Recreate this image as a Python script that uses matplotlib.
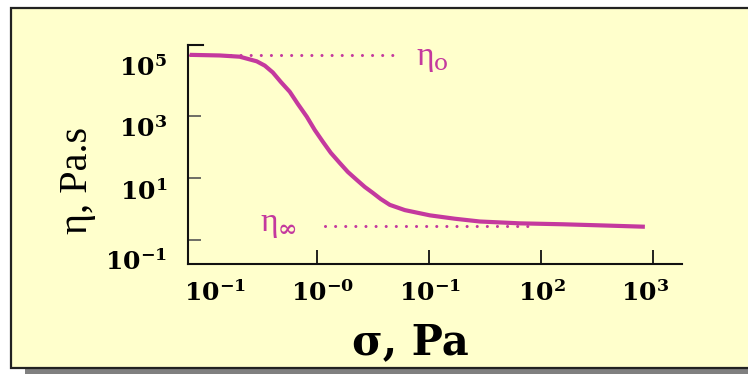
import matplotlib
matplotlib.use("Agg")
import matplotlib.pyplot as plt
from matplotlib.patches import Rectangle
import numpy as np

plt.rcParams['font.family'] = ['Liberation Serif', 'DejaVu Serif']
plt.rcParams['mathtext.fontset'] = 'dejavuserif'
plt.rcParams['mathtext.default'] = 'bf'

# flow curve (log10 stress, log10 viscosity)
log_stress = [-1.134, -0.866, -0.688, -0.536, -0.464, -0.393, -0.321, -0.241, -0.170, -0.089,
              -0.018, 0.054, 0.125, 0.205, 0.277, 0.357, 0.429, 0.500, 0.571, 0.652,
              0.786, 1.009, 1.232, 1.455, 1.813, 2.196, 2.571, 2.929]
log_visc = [5.00, 4.98, 4.94, 4.79, 4.65, 4.43, 4.12, 3.80, 3.41, 2.99,
            2.56, 2.18, 1.82, 1.49, 1.20, 0.94, 0.71, 0.52, 0.32, 0.13,
            -0.04, -0.21, -0.32, -0.41, -0.47, -0.50, -0.54, -0.58]

eta0_level = 5.0
etainf_level = -0.57
eta0_span = [-1.13, 0.70]
etainf_span = [0.07, 1.90]

xtick_pos = [-0.91, 0.05, 1.01, 2.01, 2.93]
xtick_labels = ['$10^{-1}$', '$10^{-0}$', '$10^{-1}$', '$10^{2}$', '$10^{3}$']
xmark_pos = [0, 1, 2, 3]
ytick_pos = [4.64, 2.66, 0.62, -1.66]
ytick_labels = ['$10^{5}$', '$10^{3}$', '$10^{1}$', '$10^{-1}$']
ymark_pos = [3, 1, -1]

magenta = '#c4399e'
yellow = '#ffffcc'

fig = plt.figure(figsize=(7.48, 3.74), dpi=100)
fig.patch.set_facecolor('white')

# shadow + framed yellow panel
fig.patches.append(Rectangle((0.033, 0.0), 1.0, 0.9, transform=fig.transFigure,
                             facecolor='#808080', edgecolor='none', zorder=-2))
fig.patches.append(Rectangle((0.0147, 0.016), 1.0, 0.9626, transform=fig.transFigure,
                             facecolor=yellow, edgecolor='#222222', lw=1.6, zorder=-1))

ax = fig.add_axes([0.2513, 0.2941, 0.6604, 0.5856])
ax.set_zorder(2)
ax.set_facecolor('none')
ax.set_xscale('log')
ax.set_yscale('log')
ax.set_xlim(10 ** -1.15, 10 ** 3.26)
ax.set_ylim(10 ** -1.79, 10 ** 5.32)

x = 10 ** np.array(log_stress)
y = 10 ** np.array(log_visc)
ax.plot(x, y, color=magenta, lw=3.0, solid_capstyle='butt', solid_joinstyle='round', zorder=3)

dots = (0, (0.01, 3.3))
ax.plot(10 ** np.array(eta0_span), [10 ** eta0_level] * 2, color=magenta, lw=2.2,
        linestyle=dots, dash_capstyle='round', zorder=2)
ax.plot(10 ** np.array(etainf_span), [10 ** etainf_level] * 2, color=magenta, lw=2.2,
        linestyle=dots, dash_capstyle='round', zorder=2)

ax.text(10 ** 0.89, 10 ** 4.88, 'η$_{\\mathrm{o}}$', color=magenta, fontsize=24,
        ha='left', va='center')
ax.text(10 ** -0.51, 10 ** -0.5, 'η$_{\\infty}$', color=magenta, fontsize=24,
        ha='left', va='center')

for s in ['top', 'right']:
    ax.spines[s].set_visible(False)
for s in ['left', 'bottom']:
    ax.spines[s].set_linewidth(1.5)
    ax.spines[s].set_color('#111111')

ax.xaxis.set_major_locator(matplotlib.ticker.FixedLocator(10 ** np.array(xtick_pos)))
ax.xaxis.set_major_formatter(matplotlib.ticker.FixedFormatter(xtick_labels))
ax.xaxis.set_minor_locator(matplotlib.ticker.FixedLocator(10.0 ** np.array(xmark_pos)))
ax.xaxis.set_minor_formatter(matplotlib.ticker.NullFormatter())
ax.yaxis.set_major_locator(matplotlib.ticker.FixedLocator(10 ** np.array(ytick_pos)))
ax.yaxis.set_major_formatter(matplotlib.ticker.FixedFormatter(ytick_labels))
ax.yaxis.set_minor_locator(matplotlib.ticker.FixedLocator(10.0 ** np.array(ymark_pos)))
ax.yaxis.set_minor_formatter(matplotlib.ticker.NullFormatter())

ax.tick_params(axis='both', which='major', length=0, labelsize=18)
ax.tick_params(axis='x', which='major', pad=12)
ax.tick_params(axis='y', which='major', pad=15)
ax.tick_params(axis='x', which='minor', direction='in', length=10, width=1.3, color='#111111')
ax.tick_params(axis='y', which='minor', direction='in', length=9, width=1.2, color='#555555')

# small cap at the top of the y spine
ax.plot([0, 0.03], [1, 1], transform=ax.transAxes, color='#111111', lw=1.5, clip_on=False)

ax.set_xlabel('σ, Pa', fontsize=30, fontweight='bold', family='DejaVu Serif')
ax.xaxis.set_label_coords(0.45, -0.26)
ax.set_ylabel('η, Pa.s', fontsize=29)
ax.yaxis.set_label_coords(-0.187, 0.38)

fig.savefig('out.png', dpi=100)
